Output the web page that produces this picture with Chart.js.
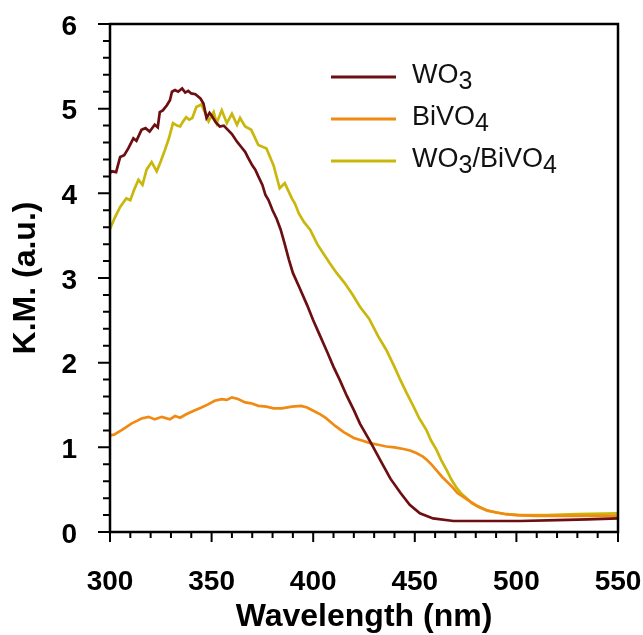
<!DOCTYPE html>
<html>
<head>
<meta charset="utf-8">
<script src="https://cdn.jsdelivr.net/npm/chart.js@4.4.1/dist/chart.umd.min.js"></script>
<style>
  body { margin: 0; background: #fff; }
  #wrap { width: 643px; height: 635px; }
</style>
</head>
<body>
<div id="wrap"><canvas id="chartKM" width="643" height="635"></canvas></div>
<script>
// Achsen
const xTicks = [300, 350, 400, 450, 500, 550];
const yTicks = [0, 1, 2, 3, 4, 5, 6];

// Legende (Ziffern werden tiefgestellt)
const serienNamen = ["WO3", "BiVO4", "WO3/BiVO4"];

// WO3 – Wellenlänge (nm) und K.M.
const wo3Wl = [300, 301, 303, 305, 307, 309, 311.5, 313, 315.5, 317.5, 319.5, 322, 323.5, 324.5, 326, 328, 329.5, 330.5, 332, 333.5,
  335.5, 337, 338.5, 340, 342, 344.5, 346, 347.5, 349, 350, 352, 354, 356, 358, 360, 362.5, 364.5, 366.5, 368, 370,
  371.5, 373, 375, 376.5, 378, 380, 382, 384, 386, 388, 390, 393, 397, 400, 403.5, 407, 410, 413, 416.5, 420,
  423, 428, 433, 438, 443, 447.5, 452.5, 459, 469, 485, 502, 520, 535, 550];
const wo3Km = [4.24, 4.26, 4.25, 4.43, 4.45, 4.53, 4.65, 4.62, 4.75, 4.77, 4.73, 4.81, 4.78, 4.96, 4.98, 5.04, 5.10, 5.20, 5.22, 5.20,
  5.24, 5.19, 5.21, 5.18, 5.17, 5.12, 5.06, 4.89, 4.95, 4.92, 4.84, 4.79, 4.80, 4.75, 4.70, 4.61, 4.55, 4.49, 4.42, 4.33,
  4.28, 4.20, 4.10, 3.98, 3.92, 3.80, 3.70, 3.57, 3.40, 3.22, 3.06, 2.90, 2.68, 2.50, 2.31, 2.12, 1.95, 1.80, 1.61, 1.44,
  1.28, 1.07, 0.85, 0.63, 0.46, 0.32, 0.22, 0.16, 0.13, 0.13, 0.13, 0.14, 0.15, 0.16];

// BiVO4
const bivo4Wl = [300, 302, 305.5, 308, 310.5, 313, 315.5, 319, 322, 325.5, 329.5, 332, 334.5, 337.5, 341, 345, 348.5, 351.5, 355, 357.5,
  360, 363, 366.5, 369.5, 373, 377, 380.5, 384.5, 389.5, 394, 397, 401, 403.5, 406, 411, 415, 420, 424, 428, 432,
  436, 440, 444.5, 448, 451, 454, 456, 458.5, 461, 463.5, 466, 468.5, 471, 473.5, 476, 480.5, 485, 490, 495, 500,
  510, 520, 535, 550];
const bivo4Km = [1.14, 1.15, 1.20, 1.24, 1.28, 1.31, 1.34, 1.36, 1.33, 1.36, 1.33, 1.37, 1.35, 1.39, 1.43, 1.47, 1.51, 1.55, 1.57, 1.56,
  1.59, 1.57, 1.53, 1.52, 1.49, 1.48, 1.46, 1.46, 1.48, 1.49, 1.47, 1.42, 1.39, 1.35, 1.25, 1.18, 1.11, 1.08, 1.05, 1.03,
  1.01, 1.00, 0.98, 0.96, 0.93, 0.89, 0.85, 0.79, 0.72, 0.65, 0.59, 0.53, 0.46, 0.42, 0.38, 0.31, 0.26, 0.23, 0.21, 0.20,
  0.19, 0.19, 0.19, 0.19];

// WO3/BiVO4
const kompWl = [300, 302.5, 305, 308, 310, 312, 314, 316, 318, 320.5, 323, 325, 327, 329, 331, 333, 334.5, 336, 337.5, 339,
  340.5, 342.5, 345, 347, 348.5, 351, 352.5, 355, 357.5, 360, 362.5, 364, 366.5, 369.5, 373, 377, 380.5, 383.5, 386, 389.5,
  391, 393, 395.5, 398.5, 402, 405, 408, 411.5, 415.5, 419.5, 423, 427.5, 432, 436, 440, 443, 446, 449, 452, 455.8,
  458, 460.7, 463, 465.7, 468, 470.6, 473, 475.5, 478, 482, 486, 490.5, 495, 502, 515, 530, 550];
const kompKm = [3.58, 3.72, 3.84, 3.94, 3.92, 4.05, 4.16, 4.10, 4.28, 4.37, 4.26, 4.38, 4.51, 4.65, 4.83, 4.80, 4.79, 4.85, 4.90, 4.87,
  4.89, 5.02, 5.05, 4.94, 4.85, 4.96, 4.83, 4.98, 4.83, 4.94, 4.81, 4.89, 4.79, 4.75, 4.57, 4.53, 4.33, 4.06, 4.12, 3.94,
  3.88, 3.76, 3.66, 3.57, 3.40, 3.29, 3.18, 3.06, 2.94, 2.80, 2.66, 2.52, 2.31, 2.15, 1.95, 1.79, 1.64, 1.50, 1.35, 1.20,
  1.08, 0.97, 0.85, 0.73, 0.62, 0.52, 0.45, 0.40, 0.34, 0.29, 0.25, 0.23, 0.21, 0.20, 0.20, 0.21, 0.22];

const farben = ["#6d0f12", "#f08a12", "#c9b70c"];
const schrift = "'Liberation Sans', Arial, sans-serif";

const punkte = (wl, km) => wl.map((w, i) => ({ x: w, y: km[i] }));

// Rahmen und Ticks (Haupt- und Nebenticks nach aussen)
const rahmenPlugin = {
  id: "rahmen",
  afterDatasetsDraw(chart) {
    const { ctx, chartArea: a, scales: { x, y } } = chart;
    ctx.save();
    ctx.strokeStyle = "#000";
    ctx.lineWidth = 2.5;
    ctx.strokeRect(a.left, a.top, a.right - a.left, a.bottom - a.top);
    ctx.lineWidth = 2;
    ctx.beginPath();
    for (let w = xTicks[0]; w <= xTicks[xTicks.length - 1]; w += 10) {
      const px = x.getPixelForValue(w);
      const len = xTicks.includes(w) ? 10 : 6;
      ctx.moveTo(px, a.bottom);
      ctx.lineTo(px, a.bottom + len);
    }
    for (let i = 0; i <= 30; i++) {
      const py = y.getPixelForValue(i / 5);
      const len = i % 5 === 0 ? 12 : 7;
      ctx.moveTo(a.left, py);
      ctx.lineTo(a.left - len, py);
    }
    ctx.stroke();
    ctx.restore();
  },
};

// Legende mit tiefgestellten Ziffern
const legendePlugin = {
  id: "legende",
  afterDraw(chart) {
    const { ctx } = chart;
    ctx.save();
    serienNamen.forEach((name, i) => {
      const ly = 77 + i * 42;
      ctx.strokeStyle = farben[i];
      ctx.lineWidth = 3;
      ctx.beginPath();
      ctx.moveTo(331, ly);
      ctx.lineTo(396, ly);
      ctx.stroke();

      let tx = 412;
      ctx.fillStyle = "#111";
      ctx.textBaseline = "alphabetic";
      for (const ch of name) {
        const sub = /[0-9]/.test(ch);
        ctx.font = (sub ? "25px " : "27px ") + schrift;
        ctx.fillText(ch, tx, ly + 6 + (sub ? 5.5 : 0));
        tx += ctx.measureText(ch).width;
      }
    });
    ctx.restore();
  },
};

new Chart(document.getElementById("chartKM").getContext("2d"), {
  type: "line",
  data: {
    datasets: [
      { label: serienNamen[0], data: punkte(wo3Wl, wo3Km), borderColor: farben[0] },
      { label: serienNamen[1], data: punkte(bivo4Wl, bivo4Km), borderColor: farben[1] },
      { label: serienNamen[2], data: punkte(kompWl, kompKm), borderColor: farben[2] },
    ],
  },
  options: {
    responsive: false,
    animation: false,
    layout: { padding: { top: 24, right: 25, left: 0, bottom: 0 } },
    elements: {
      line: { borderWidth: 2.7, tension: 0 },
      point: { radius: 0 },
    },
    plugins: { legend: { display: false }, tooltip: { enabled: false } },
    scales: {
      x: {
        type: "linear",
        min: 300,
        max: 550,
        afterBuildTicks: (s) => { s.ticks = xTicks.map((v) => ({ value: v })); },
        afterFit: (s) => {
          s.height = 103;
          s.paddingLeft = 0;
          s.paddingRight = 0;
        },
        grid: { display: false },
        border: { display: false },
        ticks: { color: "#000", padding: 25, font: { family: schrift, size: 28, weight: "bold" } },
        title: {
          display: true,
          text: "Wavelength (nm)",
          color: "#000",
          padding: { top: 0, bottom: 0 },
          font: { family: schrift, size: 32, weight: "bold", lineHeight: 1.1 },
        },
      },
      y: {
        min: 0,
        max: 6,
        afterBuildTicks: (s) => { s.ticks = yTicks.map((v) => ({ value: v })); },
        afterFit: (s) => {
          s.width = 110;
          s.paddingTop = 0;
          s.paddingBottom = 0;
        },
        grid: { display: false },
        border: { display: false },
        ticks: { color: "#000", padding: 25, labelOffset: 3, font: { family: schrift, size: 28, weight: "bold" } },
        title: {
          display: true,
          text: "K.M. (a.u.)",
          color: "#000",
          padding: { top: 7, bottom: 0 },
          font: { family: schrift, size: 32, weight: "bold" },
        },
      },
    },
  },
  plugins: [rahmenPlugin, legendePlugin],
});
</script>
</body>
</html>
